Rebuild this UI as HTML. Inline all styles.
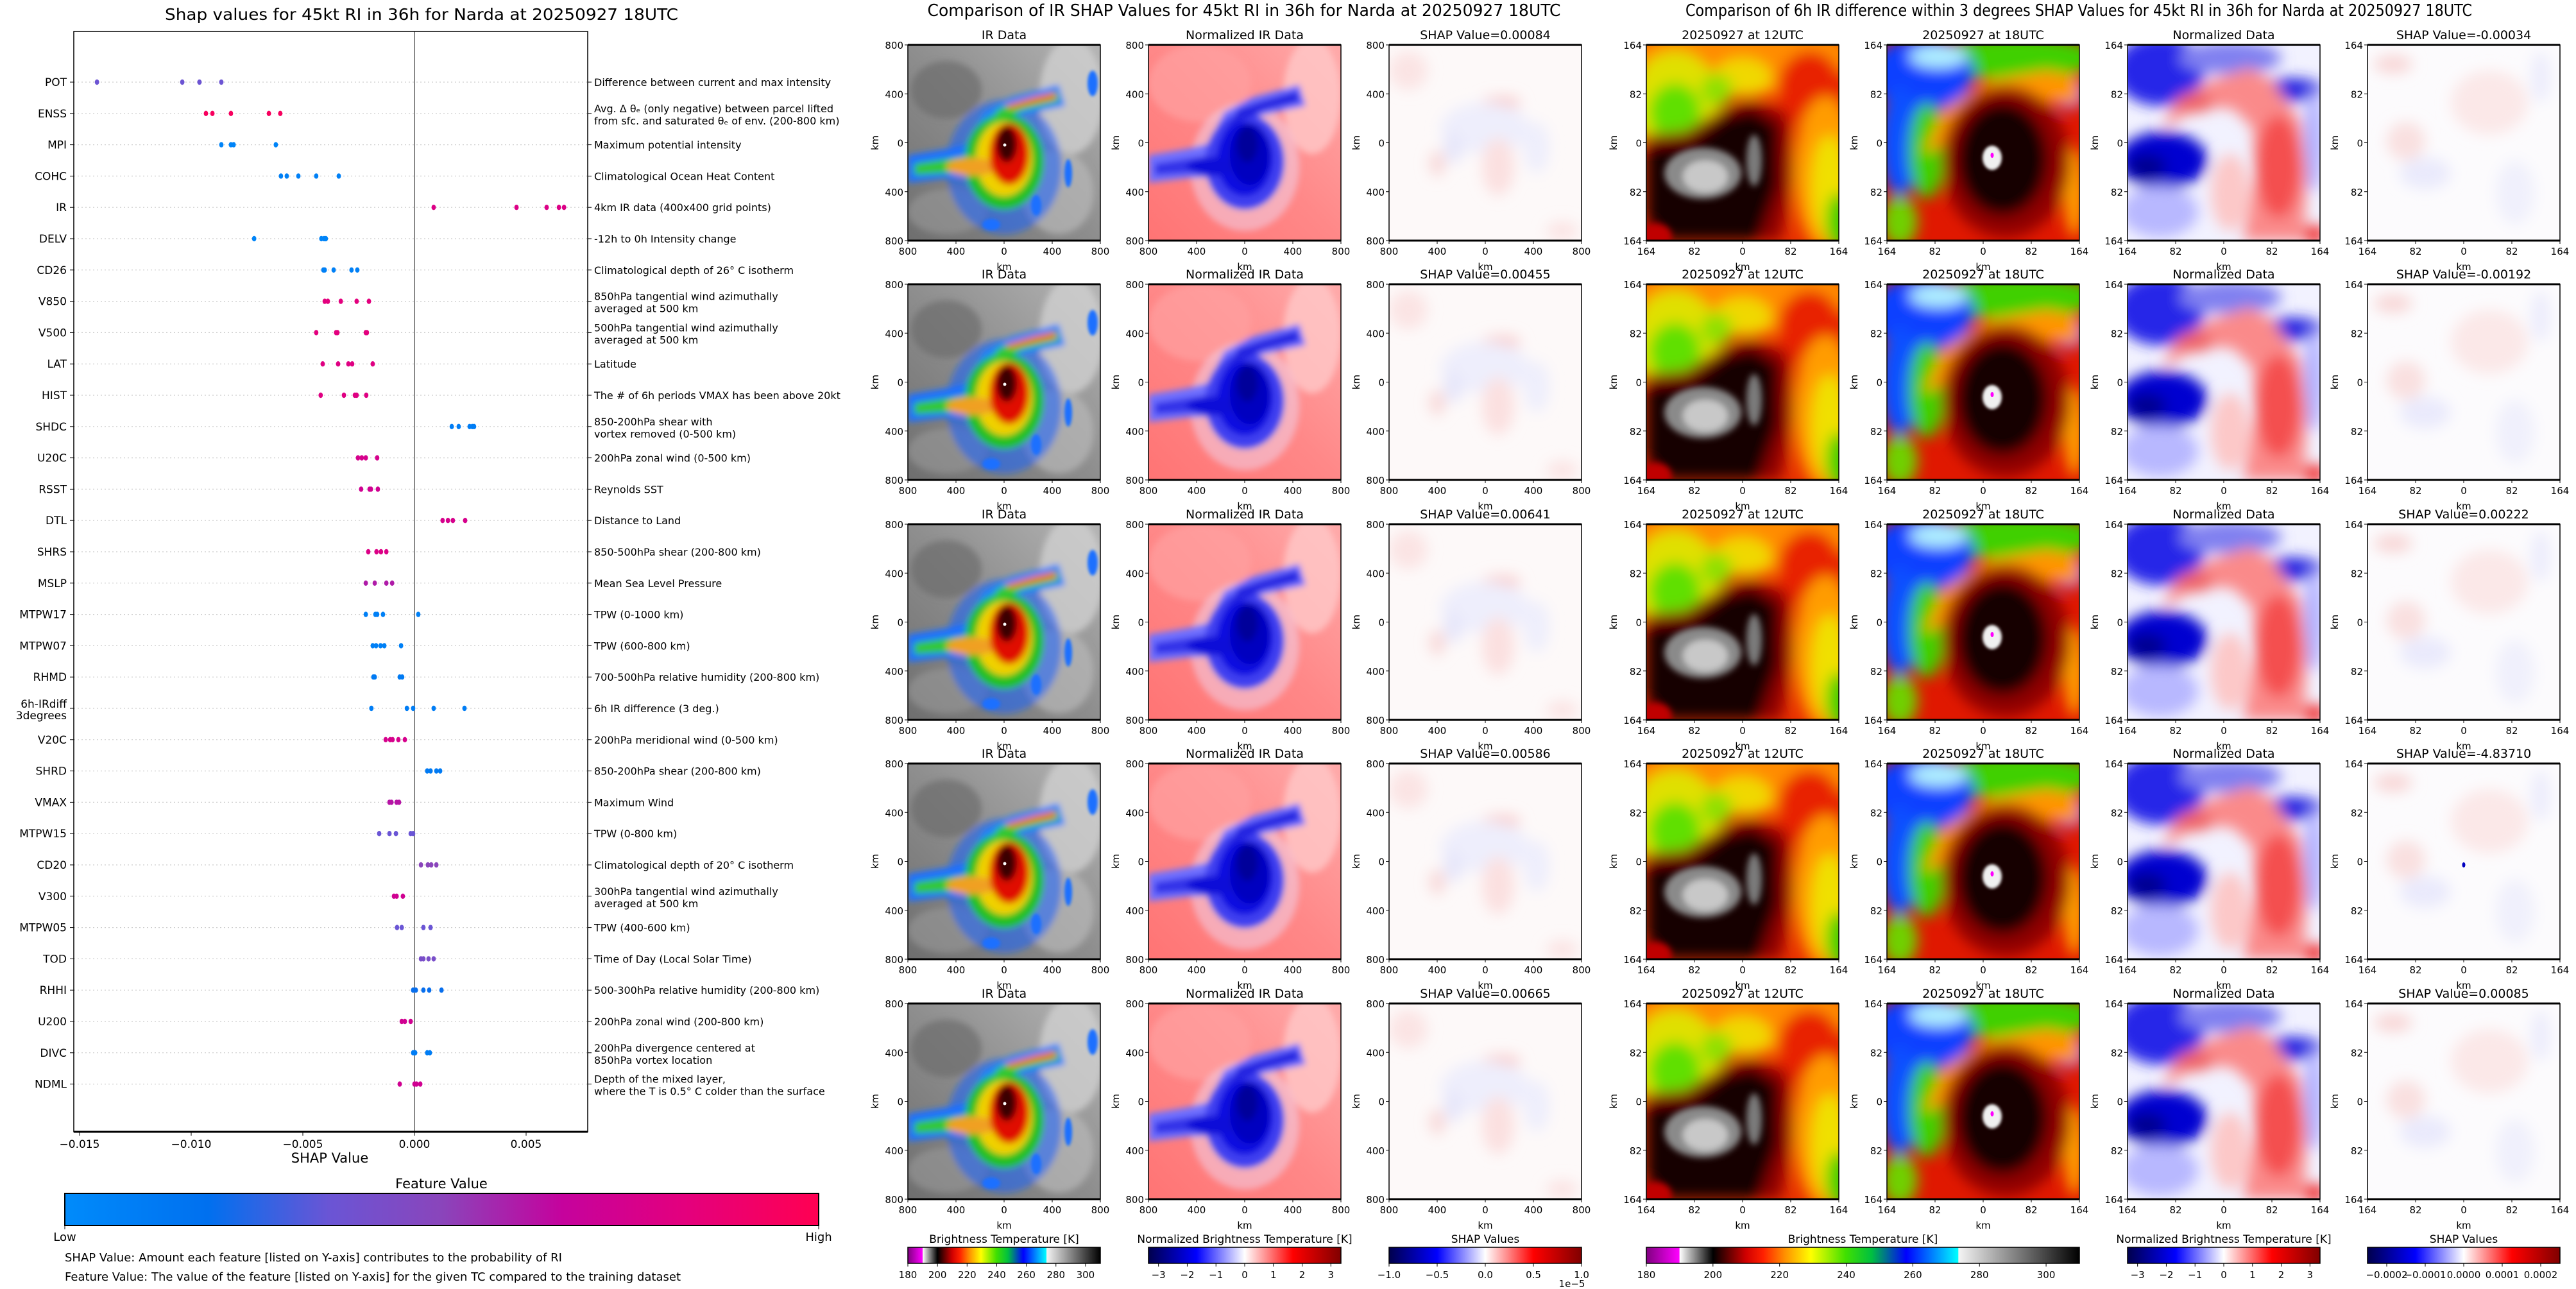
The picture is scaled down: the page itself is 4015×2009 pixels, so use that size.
<!DOCTYPE html>
<html><head><meta charset="utf-8"><title>SHAP RI Narda</title>
<style>
html,body{margin:0;padding:0;background:#fff;}
svg{display:block;font-family:"DejaVu Sans","Liberation Sans",sans-serif;}
</style></head>
<body>
<svg id="root" xmlns="http://www.w3.org/2000/svg" width="4015" height="2009" viewBox="0 0 4015 2009">
<defs>
<filter id="b2" x="-20%" y="-20%" width="140%" height="140%"><feGaussianBlur stdDeviation="2"/></filter>
<filter id="b4" x="-20%" y="-20%" width="140%" height="140%"><feGaussianBlur stdDeviation="5"/></filter>
<filter id="b8" x="-30%" y="-30%" width="160%" height="160%"><feGaussianBlur stdDeviation="11"/></filter>
<linearGradient id="gIrBg" x1="0" y1="1" x2="1" y2="0"><stop offset="0" stop-color="#6e6e6e"/><stop offset="0.5" stop-color="#8e8e8e"/><stop offset="1" stop-color="#b4b4b4"/></linearGradient>
<linearGradient id="gNBg" x1="0" y1="1" x2="1" y2="0"><stop offset="0" stop-color="#ff7474"/><stop offset="0.5" stop-color="#ff8888"/><stop offset="1" stop-color="#ffaaaa"/></linearGradient>
<linearGradient id="gFeat" x1="0" x2="1" y1="0" y2="0">
<stop offset="0" stop-color="#008bfb"/><stop offset="0.19" stop-color="#0070ef"/><stop offset="0.35" stop-color="#6a55d5"/><stop offset="0.5" stop-color="#8a45bb"/><stop offset="0.66" stop-color="#c5029d"/><stop offset="0.82" stop-color="#e3007e"/><stop offset="1" stop-color="#ff0052"/></linearGradient>
<linearGradient id="gBT" x1="0" x2="1" y1="0" y2="0">
<stop offset="0" stop-color="#800080"/><stop offset="0.076" stop-color="#ff00ff"/><stop offset="0.077" stop-color="#ffffff"/><stop offset="0.154" stop-color="#000000"/><stop offset="0.23" stop-color="#d00000"/><stop offset="0.27" stop-color="#ff2000"/><stop offset="0.32" stop-color="#ff9000"/><stop offset="0.38" stop-color="#ffff00"/><stop offset="0.46" stop-color="#40e000"/><stop offset="0.52" stop-color="#00c040"/><stop offset="0.6" stop-color="#0000ff"/><stop offset="0.72" stop-color="#00ffff"/><stop offset="0.721" stop-color="#f4f4f4"/><stop offset="1" stop-color="#000000"/></linearGradient>
<linearGradient id="gSeis" x1="0" x2="1" y1="0" y2="0">
<stop offset="0" stop-color="#00004c"/><stop offset="0.25" stop-color="#0000ff"/><stop offset="0.5" stop-color="#ffffff"/><stop offset="0.75" stop-color="#ff0000"/><stop offset="1" stop-color="#800000"/></linearGradient>

<symbol id="s-ir" viewBox="0 0 300 305" preserveAspectRatio="none">
<rect width="300" height="305" fill="url(#gIrBg)"/>
<g filter="url(#b4)">
<ellipse cx="255" cy="80" rx="50" ry="90" fill="#cfcfcf" opacity=".8"/>
<ellipse cx="60" cy="70" rx="55" ry="45" fill="#6c6c6c" opacity=".7"/>
<ellipse cx="235" cy="230" rx="55" ry="65" fill="#b8b8b8" opacity=".7"/>
<ellipse cx="60" cy="260" rx="60" ry="35" fill="#9a9a9a" opacity=".6"/>
<ellipse cx="150" cy="190" rx="90" ry="105" fill="#1860ff" opacity=".55"/>
<path d="M0,172 L60,162 L110,150 L120,205 L60,208 L0,215 Z" fill="#1a70ff"/>
<path d="M95,150 L118,105 L160,82 L235,62 L245,95 L175,110 L135,132 L115,165 Z" fill="#1a80ff"/>
<ellipse cx="150" cy="182" rx="62" ry="75" fill="#20c020"/>
<path d="M10,185 L70,176 L115,170 L115,198 L60,200 L10,203 Z" fill="#30c830"/>
<path d="M115,140 L140,100 L175,88 L232,72 L236,88 L180,102 L140,122 L125,150 Z" fill="#30c830"/>
<ellipse cx="150" cy="178" rx="44" ry="58" fill="#f0d000"/>
<ellipse cx="100" cy="190" rx="40" ry="14" fill="#f0a020"/>
<path d="M150,95 L200,80 L230,74 L230,84 L200,90 L160,100 Z" fill="#f07000"/>
<ellipse cx="158" cy="170" rx="31" ry="48" fill="#e01000"/>
<ellipse cx="154" cy="155" rx="16" ry="28" fill="#3a0000"/>
</g>
<g fill="#1a70ff" filter="url(#b2)"><ellipse cx="130" cy="280" rx="14" ry="9"/><ellipse cx="200" cy="250" rx="8" ry="16"/><ellipse cx="288" cy="60" rx="8" ry="20"/><ellipse cx="250" cy="200" rx="6" ry="22"/></g>
<circle cx="151" cy="156" r="2.5" fill="#fff"/>
</symbol>

<symbol id="s-nir" viewBox="0 0 300 305" preserveAspectRatio="none">
<rect width="300" height="305" fill="url(#gNBg)"/>
<g filter="url(#b4)">
<ellipse cx="80" cy="60" rx="80" ry="60" fill="#ffa0a0" opacity=".7"/>
<ellipse cx="255" cy="80" rx="45" ry="90" fill="#ffc8c8" opacity=".8"/>
<ellipse cx="150" cy="190" rx="85" ry="100" fill="#f0d8f0" opacity=".5"/>
<path d="M0,172 L60,162 L110,150 L120,205 L60,208 L0,215 Z" fill="#7070ff"/>
<path d="M95,150 L118,105 L160,82 L235,62 L245,95 L175,110 L135,132 L115,165 Z" fill="#6a6aff"/>
<ellipse cx="150" cy="182" rx="62" ry="75" fill="#4040f0"/>
<path d="M10,185 L70,176 L115,170 L115,198 L60,200 L10,203 Z" fill="#3030e8"/>
<path d="M115,140 L140,100 L175,88 L232,72 L236,88 L180,102 L140,122 L125,150 Z" fill="#2020e0"/>
<ellipse cx="150" cy="178" rx="44" ry="58" fill="#0c0ce0"/>
<ellipse cx="100" cy="190" rx="40" ry="14" fill="#0808d8"/>
<ellipse cx="158" cy="170" rx="31" ry="48" fill="#0000c0"/>
<ellipse cx="154" cy="155" rx="16" ry="28" fill="#00009a"/>
</g>
</symbol>

<symbol id="s-shap1" viewBox="0 0 300 305" preserveAspectRatio="none">
<rect width="300" height="305" fill="#fdf9f9"/>
<g filter="url(#b8)">
<ellipse cx="30" cy="40" rx="30" ry="30" fill="#fbe4e4"/>
<ellipse cx="175" cy="90" rx="30" ry="10" fill="#f8caca"/>
<ellipse cx="150" cy="130" rx="70" ry="40" fill="#eeeefc"/>
<ellipse cx="100" cy="160" rx="15" ry="25" fill="#e6e6fa"/>
<ellipse cx="170" cy="190" rx="25" ry="45" fill="#fbe0e0"/>
<ellipse cx="75" cy="185" rx="12" ry="20" fill="#f8d8d8"/>
<ellipse cx="230" cy="160" rx="20" ry="40" fill="#eeeefc"/>
<ellipse cx="270" cy="290" rx="25" ry="15" fill="#fbe4e4"/>
</g>
</symbol>

<symbol id="s-12" viewBox="0 0 300 305" preserveAspectRatio="none">
<rect width="300" height="305" fill="#e83000"/>
<g filter="url(#b8)">
<ellipse cx="150" cy="20" rx="170" ry="60" fill="#ff8c00"/>
<ellipse cx="150" cy="50" rx="45" ry="30" fill="#f0d800"/>
<ellipse cx="45" cy="90" rx="70" ry="80" fill="#e0e000"/>
<ellipse cx="45" cy="105" rx="40" ry="45" fill="#60e000"/>
<ellipse cx="110" cy="70" rx="25" ry="25" fill="#90e000"/>
<ellipse cx="255" cy="70" rx="50" ry="60" fill="#e82000"/>
<ellipse cx="280" cy="200" rx="50" ry="120" fill="#ff9c00"/>
<ellipse cx="285" cy="220" rx="28" ry="80" fill="#f0e000"/>
<ellipse cx="300" cy="275" rx="20" ry="45" fill="#40d000"/>
<path d="M0,140 L60,135 L110,105 L160,85 L220,105 L230,200 L210,305 L0,305 Z" fill="#900000"/>
<path d="M0,160 L70,150 L120,112 L165,100 L205,125 L205,220 L175,305 L20,305 L0,270 Z" fill="#150000"/>
</g>
<g filter="url(#b4)">
<ellipse cx="88" cy="200" rx="60" ry="40" fill="#8a8a8a"/>
<ellipse cx="92" cy="205" rx="35" ry="25" fill="#c8c8c8"/>
<ellipse cx="168" cy="180" rx="12" ry="40" fill="#7a7a7a"/>
<ellipse cx="15" cy="298" rx="25" ry="20" fill="#c00000"/>
</g>
</symbol>

<symbol id="s-18" viewBox="0 0 300 305" preserveAspectRatio="none">
<rect width="300" height="305" fill="#e01800"/>
<g filter="url(#b8)">
<ellipse cx="200" cy="20" rx="130" ry="35" fill="#40d000"/>
<ellipse cx="55" cy="45" rx="80" ry="60" fill="#1040ff"/>
<ellipse cx="80" cy="18" rx="45" ry="18" fill="#b0f0ff"/>
<ellipse cx="20" cy="150" rx="32" ry="85" fill="#1050ff"/>
<ellipse cx="62" cy="165" rx="28" ry="75" fill="#40d000"/>
<ellipse cx="285" cy="75" rx="25" ry="25" fill="#2060ff"/>
<path d="M55,170 L90,100 L160,55 L250,40 L300,50 L300,95 L230,85 L160,95 L115,145 Z" fill="#ff9400"/>
<ellipse cx="20" cy="275" rx="28" ry="40" fill="#70d000"/>
<ellipse cx="292" cy="230" rx="16" ry="70" fill="#ffa000"/>
<ellipse cx="185" cy="182" rx="100" ry="118" fill="#900000"/>
<ellipse cx="180" cy="178" rx="70" ry="88" fill="#150000"/>
</g>
<g filter="url(#b2)">
<ellipse cx="164" cy="176" rx="15" ry="19" fill="#f0f0f0"/>
</g>
<ellipse cx="164" cy="172" rx="2.5" ry="4" fill="#ff00ff"/>
</symbol>

<symbol id="s-nd" viewBox="0 0 300 305" preserveAspectRatio="none">
<rect width="300" height="305" fill="#f2f2ff"/>
<g filter="url(#b8)">
<ellipse cx="50" cy="40" rx="70" ry="55" fill="#2828e8"/>
<ellipse cx="160" cy="20" rx="80" ry="25" fill="#8080f0"/>
<ellipse cx="255" cy="70" rx="50" ry="18" fill="#2020e0"/>
<ellipse cx="290" cy="150" rx="15" ry="80" fill="#b0b0ff"/>
<ellipse cx="55" cy="180" rx="70" ry="45" fill="#0000d0"/>
<ellipse cx="30" cy="190" rx="30" ry="20" fill="#000090"/>
<ellipse cx="50" cy="260" rx="60" ry="40" fill="#b8b8ff"/>
<path d="M55,130 L70,95 L120,60 L190,35 L225,55 L270,120 L280,200 L275,305 L180,305 L200,200 L195,130 L165,100 L120,95 L90,110 Z" fill="#fa8a8a"/>
<ellipse cx="235" cy="190" rx="35" ry="80" fill="#f45050"/>
<ellipse cx="105" cy="90" rx="30" ry="15" fill="#f06060"/>
<ellipse cx="160" cy="230" rx="30" ry="60" fill="#fcc8c8"/>
<ellipse cx="290" cy="295" rx="15" ry="15" fill="#f00000"/>
</g>
</symbol>

<symbol id="s-shap2" viewBox="0 0 300 305" preserveAspectRatio="none">
<rect width="300" height="305" fill="#fcfbfd"/>
<g filter="url(#b8)">
<ellipse cx="40" cy="30" rx="30" ry="15" fill="#f8d8d8"/>
<ellipse cx="190" cy="90" rx="60" ry="50" fill="#fbe8e8"/>
<ellipse cx="60" cy="150" rx="30" ry="30" fill="#f9e0e0"/>
<ellipse cx="90" cy="200" rx="40" ry="25" fill="#eaeafc"/>
<ellipse cx="270" cy="50" rx="15" ry="40" fill="#ececfc"/>
<ellipse cx="230" cy="230" rx="30" ry="50" fill="#f0f0fc"/>
</g>
</symbol>
</defs>
<rect width="4015" height="2009" fill="#fff"/>

<g id="shap-chart">
<text x="657" y="31" font-size="25" text-anchor="middle" textLength="800" lengthAdjust="spacingAndGlyphs">Shap values for 45kt RI in 36h for Narda at 20250927 18UTC</text>
<g id="grid"></g>
<line x1="646" y1="49" x2="646" y2="1764" stroke="#888" stroke-width="2"/>
<rect x="115" y="49" width="801" height="1715" fill="none" stroke="#000" stroke-width="1.5"/>
<line x1="115" y1="1764" x2="916" y2="1764" stroke="#000" stroke-width="3"/>
<g id="ylabels"></g>
<g id="rlabels"></g>
<g id="xticks"></g>
<g id="dots"></g>
<text x="514" y="1812" font-size="21" text-anchor="middle">SHAP Value</text>
<text x="688" y="1852" font-size="21" text-anchor="middle">Feature Value</text>
<rect x="101" y="1860" width="1175" height="50" fill="url(#gFeat)" stroke="#000" stroke-width="2"/>
<line x1="101" y1="1910" x2="101" y2="1916" stroke="#000"/>
<line x1="1276" y1="1910" x2="1276" y2="1916" stroke="#000"/>
<text x="101" y="1934" font-size="18" text-anchor="middle">Low</text>
<text x="1276" y="1934" font-size="18" text-anchor="middle">High</text>
<text x="101" y="1966" font-size="18">SHAP Value: Amount each feature [listed on Y-axis] contributes to the probability of RI</text>
<text x="101" y="1996" font-size="18">Feature Value: The value of the feature [listed on Y-axis] for the given TC compared to the training dataset</text>
</g>

<text x="1939" y="25" font-size="26" text-anchor="middle" textLength="987" lengthAdjust="spacingAndGlyphs">Comparison of IR SHAP Values for 45kt RI in 36h for Narda at 20250927 18UTC</text>
<text x="3240" y="25" font-size="26" text-anchor="middle" textLength="1226" lengthAdjust="spacingAndGlyphs">Comparison of 6h IR difference within 3 degrees SHAP Values for 45kt RI in 36h for Narda at 20250927 18UTC</text>
<g id="panels"></g>
<g id="cbars"></g>
</svg>

<script>
const features = ["POT","ENSS","MPI","COHC","IR","DELV","CD26","V850","V500","LAT","HIST","SHDC","U20C","RSST","DTL","SHRS","MSLP","MTPW17","MTPW07","RHMD","6h-IRdiff\n3degrees","V20C","SHRD","VMAX","MTPW15","CD20","V300","MTPW05","TOD","RHHI","U200","DIVC","NDML"];
const descriptions = ["Difference between current and max intensity","Avg. \u0394 \u03b8\u2091 (only negative) between parcel lifted\nfrom sfc. and saturated \u03b8\u2091 of env. (200-800 km)","Maximum potential intensity","Climatological Ocean Heat Content","4km IR data (400x400 grid points)","-12h to 0h Intensity change","Climatological depth of 26\u00b0 C isotherm","850hPa tangential wind azimuthally\naveraged at 500 km","500hPa tangential wind azimuthally\naveraged at 500 km","Latitude","The # of 6h periods VMAX has been above 20kt","850-200hPa shear with\nvortex removed (0-500 km)","200hPa zonal wind (0-500 km)","Reynolds SST","Distance to Land","850-500hPa shear (200-800 km)","Mean Sea Level Pressure","TPW (0-1000 km)","TPW (600-800 km)","700-500hPa relative humidity (200-800 km)","6h IR difference (3 deg.)","200hPa meridional wind (0-500 km)","850-200hPa shear (200-800 km)","Maximum Wind","TPW (0-800 km)","Climatological depth of 20\u00b0 C isotherm","300hPa tangential wind azimuthally\naveraged at 500 km","TPW (400-600 km)","Time of Day (Local Solar Time)","500-300hPa relative humidity (200-800 km)","200hPa zonal wind (200-800 km)","200hPa divergence centered at\n850hPa vortex location","Depth of the mixed layer,\nwhere the T is 0.5\u00b0 C colder than the surface"];
const shapValues = [
 [-0.01422,-0.0104,-0.00963,-0.00865],
 [-0.00934,-0.00905,-0.00822,-0.00652,-0.00601],
 [-0.00865,-0.00822,-0.0081,-0.00621],
 [-0.00598,-0.00572,-0.0052,-0.0044,-0.00339],
 [0.00086,0.00457,0.00592,0.00647,0.0067],
 [-0.00718,-0.00417,-0.00405,-0.00397],
 [-0.00408,-0.00402,-0.00362,-0.00282,-0.00256],
 [-0.00402,-0.00388,-0.0033,-0.00259,-0.00204],
 [-0.0044,-0.00351,-0.00345,-0.00218,-0.00213],
 [-0.00411,-0.00342,-0.00296,-0.00279,-0.00187],
 [-0.0042,-0.00316,-0.00267,-0.00259,-0.00216],
 [0.00167,0.00198,0.00247,0.00259,0.00267],
 [-0.00253,-0.00236,-0.00218,-0.00167],
 [-0.00239,-0.00201,-0.00195,-0.00164],
 [0.00126,0.0015,0.00172,0.00227],
 [-0.00207,-0.0017,-0.0015,-0.00126],
 [-0.00218,-0.00178,-0.00126,-0.001],
 [-0.00218,-0.00175,-0.00167,-0.00141,0.00017],
 [-0.00187,-0.00172,-0.00152,-0.00135,-0.0006],
 [-0.00184,-0.00178,-0.00066,-0.00055],
 [-0.00193,-0.00034,-0.00006,0.00086,0.00224],
 [-0.00129,-0.00109,-0.00098,-0.00072,-0.00043],
 [0.00057,0.00072,0.00098,0.00115],
 [-0.00112,-0.00103,-0.0008,-0.00069],
 [-0.00158,-0.00112,-0.00083,-0.00017,-0.00006],
 [0.00029,0.0006,0.00075,0.00098],
 [-0.00092,-0.0008,-0.00052],
 [-0.00078,-0.00057,0.0004,0.00072],
 [0.00029,0.0004,0.00063,0.00086],
 [-0.00006,0.00006,0.0004,0.00066,0.00121],
 [-0.00057,-0.00043,-0.00017],
 [-0.00006,0.00003,0.00057,0.00069],
 [-0.00066,0.0,0.00009,0.00026]
];
const featureValues = [0.36,0.95,0.05,0.08,0.78,0.05,0.08,0.82,0.82,0.8,0.8,0.1,0.75,0.72,0.75,0.78,0.6,0.08,0.08,0.12,0.1,0.75,0.12,0.62,0.35,0.5,0.72,0.35,0.42,0.2,0.72,0.1,0.72];
const xTicks = [-0.015,-0.010,-0.005,0.000,0.005];
const xTickLabels = ["\u22120.015","\u22120.010","\u22120.005","0.000","0.005"];

const NS = "http://www.w3.org/2000/svg";
function mk(tag, attrs, parent){const e=document.createElementNS(NS,tag);for(const k in attrs)e.setAttribute(k,attrs[k]);if(parent)parent.appendChild(e);return e;}
const xScale = v => 646 + v * 34800;
const yScale = i => 128 + i * 48.8;
const featStops = [[0,[0,139,251]],[0.19,[0,112,239]],[0.35,[106,85,213]],[0.5,[138,69,187]],[0.66,[197,2,157]],[0.82,[227,0,126]],[1,[255,0,82]]];
function featColor(t){for(let i=1;i<featStops.length;i++){if(t<=featStops[i][0]){const a=featStops[i-1],b=featStops[i];const f=(t-a[0])/(b[0]-a[0]);const c=a[1].map((x,j)=>Math.round(x+(b[1][j]-x)*f));return "rgb("+c.join(",")+")";}}return "rgb(255,0,82)";}

const gGrid=document.getElementById("grid"), gY=document.getElementById("ylabels"), gR=document.getElementById("rlabels"), gD=document.getElementById("dots"), gX=document.getElementById("xticks");
features.forEach((f,i)=>{
  const y=yScale(i);
  const gl=mk("line",{x1:115,x2:916,y1:y,y2:y,stroke:"#cccccc","stroke-width":1.2,"stroke-dasharray":"2,4"},gGrid);
  
  
  const tk=mk("line",{x1:109,x2:115,y1:y,y2:y,stroke:"#000"},gY);
  
  
  const lines=f.split("\n");
  lines.forEach((ln,k)=>{
    const yy = lines.length===1 ? y+6 : y-1+k*18;
    const t=mk("text",{x:104,y:yy,"font-size":17,"text-anchor":"end"},gY);
    t.textContent=ln;
    
    
  });
  const rt=mk("line",{x1:916,x2:922,y1:y,y2:y,stroke:"#000"},gR);
  
  
  const dl=descriptions[i].split("\n");
  dl.forEach((ln,k)=>{
    const yy = dl.length===1 ? y+6 : y-2+k*19;
    const t=mk("text",{x:926,y:yy,"font-size":16},gR);
    t.textContent=ln;
    
    
  });
  const col=featColor(featureValues[i]);
  shapValues[i].forEach(v=>{
    const d=mk("ellipse",{cx:xScale(v),cy:y,rx:3.4,ry:4.2,fill:col},gD);
    
    
  });
});
xTicks.forEach((v,i)=>{
  const x=xScale(v);
  const l=mk("line",{x1:x,x2:x,y1:1764,y2:1770,stroke:"#000"},gX);
  
  
  const t=mk("text",{x:x,y:1789,"font-size":17,"text-anchor":"middle"},gX);
  t.textContent=xTickLabels[i];
  
  
});

const shapTitles1 = ["0.00084","0.00455","0.00641","0.00586","0.00665"];
const shapTitles2 = ["-0.00034","-0.00192","0.00222","-4.83710","0.00085"];
const kmTicks1 = ["800","400","0","400","800"];
const kmTicks2 = ["164","82","0","82","164"];
const colX1=[1415,1790,2165], colX2=[2566,2941,3316,3690];
const rowY=[70,443,817,1190,1564];
const PW=300, PH=305;
const gP=document.getElementById("panels");
function panel(x,y,sym,title,ticks,name){
  const g=mk("g",{},gP);
  
  
  mk("use",{href:"#"+sym,x:x,y:y,width:PW,height:PH},g);
  mk("rect",{x:x,y:y,width:PW,height:PH,fill:"none",stroke:"#000","stroke-width":1.5},g);
  mk("line",{x1:x,x2:x+PW,y1:y,y2:y,stroke:"#000","stroke-width":3},g);
  mk("line",{x1:x,x2:x+PW,y1:y+PH,y2:y+PH,stroke:"#000","stroke-width":3},g);
  const tt=mk("text",{x:x+PW/2,y:y-9,"font-size":19,"text-anchor":"middle"},g);
  tt.textContent=title;
  
  
  ticks.forEach((lab,k)=>{
    const ty=y+PH*k/4, tx=x+PW*k/4;
    mk("line",{x1:x-5,x2:x,y1:ty,y2:ty,stroke:"#000"},g);
    mk("line",{x1:tx,x2:tx,y1:y+PH,y2:y+PH+5,stroke:"#000"},g);
    const a=mk("text",{x:x-7,y:ty+6,"font-size":15,"text-anchor":"end"},g);a.textContent=lab;
    
    
    const b=mk("text",{x:tx,y:y+PH+22,"font-size":15,"text-anchor":"middle"},g);b.textContent=lab;
    
    
  });
  const xl=mk("text",{x:x+PW/2,y:y+PH+46,"font-size":15,"text-anchor":"middle"},g);xl.textContent="km";
  
  
  const yl=mk("text",{x:0,y:0,"font-size":15,"text-anchor":"middle",transform:"translate("+(x-46)+","+(y+PH/2)+") rotate(-90)"},g);yl.textContent="km";
  
  
}
rowY.forEach((y,r)=>{
  panel(colX1[0],y,"s-ir","IR Data",kmTicks1,"ir-data-panel");
  panel(colX1[1],y,"s-nir","Normalized IR Data",kmTicks1,"normalized-ir-panel");
  panel(colX1[2],y,"s-shap1","SHAP Value="+shapTitles1[r],kmTicks1,"ir-shap-panel");
  panel(colX2[0],y,"s-12","20250927 at 12UTC",kmTicks2,"ir-12utc-panel");
  panel(colX2[1],y,"s-18","20250927 at 18UTC",kmTicks2,"ir-18utc-panel");
  panel(colX2[2],y,"s-nd","Normalized Data",kmTicks2,"normalized-diff-panel");
  panel(colX2[3],y,"s-shap2","SHAP Value="+shapTitles2[r],kmTicks2,"irdiff-shap-panel");
});
const bd=mk("ellipse",{cx:colX2[3]+150,cy:rowY[3]+158,rx:2.5,ry:4,fill:"#0000c0"},gP);



const btTicks=[180,200,220,240,260,280,300], btRange=[180,310];
const normTicks=[-3,-2,-1,0,1,2,3], normRange=[-3.35,3.35];
const shap1Ticks=[-1.0,-0.5,0.0,0.5,1.0], shap1Labels=["\u22121.0","\u22120.5","0.0","0.5","1.0"], shap1Range=[-1,1];
const shap2Ticks=[-0.0002,-0.0001,0,0.0001,0.0002], shap2Labels=["\u22120.0002","\u22120.0001","0.0000","0.0001","0.0002"], shap2Range=[-0.00025,0.00025];
const gC=document.getElementById("cbars");
function cbar(x0,x1,grad,title,ticks,labels,range,name){
  const g=mk("g",{},gC);
  
  
  const ct=mk("text",{x:(x0+x1)/2,y:1937,"font-size":17,"text-anchor":"middle"},g);ct.textContent=title;
  
  
  mk("rect",{x:x0,y:1944,width:x1-x0,height:25,fill:"url(#"+grad+")",stroke:"#000","stroke-width":1.5},g);
  ticks.forEach((v,k)=>{
    const x=x0+(v-range[0])/(range[1]-range[0])*(x1-x0);
    mk("line",{x1:x,x2:x,y1:1969,y2:1974,stroke:"#000"},g);
    const t=mk("text",{x:x,y:1992,"font-size":15,"text-anchor":"middle"},g);t.textContent=labels[k];
    
    
  });
}
const s=a=>a.map(String).map(x=>x.replace("-","\u2212"));
cbar(1415,1715,"gBT","Brightness Temperature [K]",btTicks,btTicks.map(String),btRange,"bt-colorbar");
cbar(1790,2090,"gSeis","Normalized Brightness Temperature [K]",normTicks,s(normTicks),normRange,"normalized-bt-colorbar");
cbar(2165,2465,"gSeis","SHAP Values",shap1Ticks,shap1Labels,shap1Range,"ir-shap-colorbar");
cbar(2566,3241,"gBT","Brightness Temperature [K]",btTicks,btTicks.map(String),btRange,"bt-colorbar-2");
cbar(3316,3616,"gSeis","Normalized Brightness Temperature [K]",normTicks,s(normTicks),normRange,"normalized-bt-colorbar-2");
cbar(3690,3990,"gSeis","SHAP Values",shap2Ticks,shap2Labels,shap2Range,"irdiff-shap-colorbar");
const ex=mk("text",{x:2450,y:2006,"font-size":15,"text-anchor":"middle"},gC);ex.textContent="1e\u22125";


</script>
</body></html>
